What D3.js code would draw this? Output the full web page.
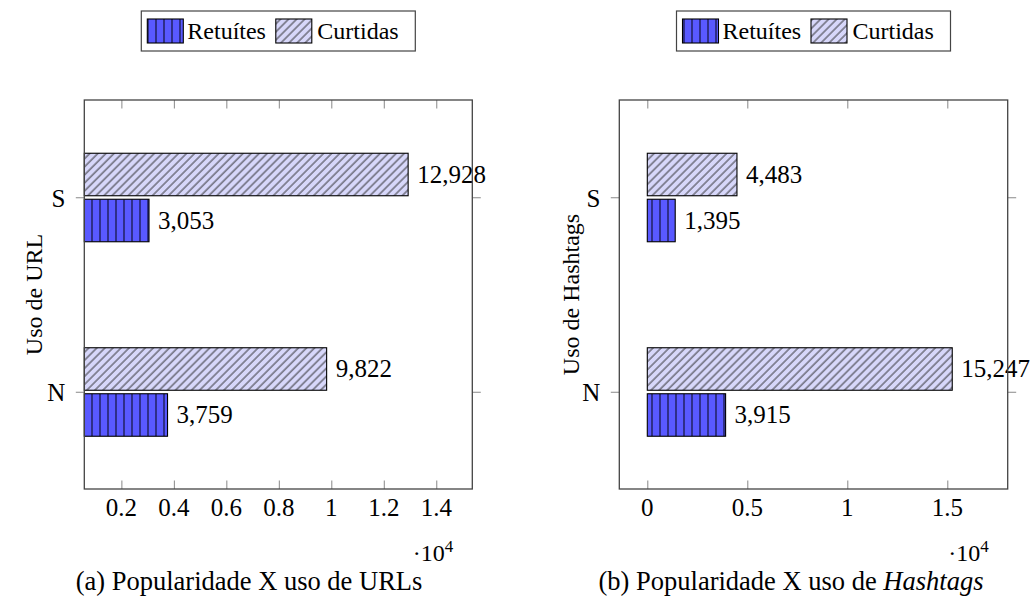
<!doctype html>
<html lang="pt">
<head>
<meta charset="UTF-8">
<title>Popularidade X uso de URLs / Hashtags</title>
<script src="https://d3js.org/d3.v7.min.js"></script>
<style>
    body { margin: 0; background: #fff; }
    text { font-family: "Liberation Serif", "Times New Roman", serif; fill: #000; }
</style>
</head>
<body>
<script>
// categories (y axis) and series values
var categories = ["S", "N"];
var seriesNames = ["Retuítes", "Curtidas"];

var urlRetuites = [3053, 3759];
var urlCurtidas = [12928, 9822];
var hashRetuites = [1395, 3915];
var hashCurtidas = [4483, 15247];

// x axis ticks (values are scaled by 10^4 in the labels)
var urlTicks = [2000, 4000, 6000, 8000, 10000, 12000, 14000];
var urlTickLabels = ["0.2", "0.4", "0.6", "0.8", "1", "1.2", "1.4"];
var hashTicks = [0, 5000, 10000, 15000];
var hashTickLabels = ["0", "0.5", "1", "1.5"];

var width = 1033, height = 601;

var svg = d3.select("body").append("svg")
    .attr("width", width)
    .attr("height", height);

svg.append("rect").attr("width", width).attr("height", height).attr("fill", "#fff");

// patterns
var defs = svg.append("defs");

var vl = defs.append("pattern")
    .attr("id", "vlines")
    .attr("patternUnits", "userSpaceOnUse")
    .attr("width", 8).attr("height", 8);
vl.append("rect").attr("width", 8).attr("height", 8).attr("fill", "#5959ff");
vl.append("line")
    .attr("x1", 4).attr("x2", 4).attr("y1", 0).attr("y2", 8)
    .attr("stroke", "#1c1c55").attr("stroke-width", 1.4);

var ne = defs.append("pattern")
    .attr("id", "nelines")
    .attr("patternUnits", "userSpaceOnUse")
    .attr("width", 5.7).attr("height", 5.7)
    .attr("patternTransform", "rotate(45)");
ne.append("rect").attr("width", 5.7).attr("height", 5.7).attr("fill", "#d7d7fa");
ne.append("line")
    .attr("x1", 1).attr("x2", 1).attr("y1", 0).attr("y2", 5.7)
    .attr("stroke", "#222").attr("stroke-width", 0.9);

var fills = ["url(#vlines)", "url(#nelines)"];

function drawPanel(p) {
    var g = svg.append("g");

    var x = d3.scaleLinear().domain(p.domain).range([p.left, p.right]);
    var y = d3.scalePoint().domain(categories).range([p.top, p.bottom]).padding(0.5);
    var x0 = p.domain[0] < 0 ? 0 : p.domain[0];

    // bars: Curtidas above the category line, Retuítes below
    var rows = categories.map(function(c, i) {
        return { cat: c, values: [p.retuites[i], p.curtidas[i]] };
    });
    var offsets = [[2, 44.5], [-44, -1.5]];

    rows.forEach(function(r) {
        r.values.forEach(function(v, s) {
            var y0 = y(r.cat) + offsets[s][0];
            var y1 = y(r.cat) + offsets[s][1];
            g.append("rect")
                .attr("x", x(x0))
                .attr("y", y0)
                .attr("width", x(v) - x(x0))
                .attr("height", y1 - y0)
                .attr("fill", fills[s])
                .attr("stroke", "#000")
                .attr("stroke-width", 1.1);
            g.append("text")
                .attr("x", x(v) + 9)
                .attr("y", (y0 + y1) / 2 + 8)
                .attr("font-size", 25)
                .text(d3.format(",")(v));
        });
    });

    // x ticks, bottom and top, inside
    var xAxisB = d3.axisBottom(x).tickValues(p.ticks).tickSize(-8.5).tickFormat("");
    var xAxisT = d3.axisTop(x).tickValues(p.ticks).tickSize(-8.5).tickFormat("");
    g.append("g").attr("transform", "translate(0," + p.bottom + ")").call(xAxisB);
    g.append("g").attr("transform", "translate(0," + p.top + ")").call(xAxisT);

    // y ticks, both sides, outside
    g.append("g").attr("transform", "translate(" + p.left + ",0)")
        .call(d3.axisLeft(y).tickSize(8.5).tickFormat(""));
    g.append("g").attr("transform", "translate(" + p.right + ",0)")
        .call(d3.axisRight(y).tickSize(8.5).tickFormat(""));

    g.selectAll(".domain").remove();
    g.selectAll(".tick line").attr("stroke", "#888").attr("stroke-width", 1);

    // frame
    g.append("rect")
        .attr("x", p.left).attr("y", p.top)
        .attr("width", p.right - p.left).attr("height", p.bottom - p.top)
        .attr("fill", "none").attr("stroke", "#444").attr("stroke-width", 1.3);

    // tick labels
    g.selectAll(".xlab").data(p.ticks).enter().append("text")
        .attr("x", function(d) { return x(d); })
        .attr("y", p.bottom + 27)
        .attr("text-anchor", "middle")
        .attr("font-size", 25)
        .text(function(d, i) { return p.tickLabels[i]; });

    g.selectAll(".ylab").data(categories).enter().append("text")
        .attr("x", p.left - 19)
        .attr("y", function(d) { return y(d) + 9.5; })
        .attr("text-anchor", "end")
        .attr("font-size", 25)
        .text(function(d) { return d; });

    // scale note ·10^4
    var sc = g.append("text")
        .attr("x", p.right - 19)
        .attr("y", p.bottom + 72)
        .attr("text-anchor", "end")
        .attr("font-size", 24);
    sc.append("tspan").text("\u00b710");
    sc.append("tspan").attr("font-size", 17).attr("dy", -9).text("4");

    // y axis title
    g.append("text")
        .attr("transform", "translate(" + p.titleX + "," + (p.top + p.bottom) / 2 + ")rotate(-90)")
        .attr("text-anchor", "middle")
        .attr("font-size", 24)
        .text(p.yTitle);

    // legend
    var lg = g.append("g");
    var cx = (p.left + p.right) / 2;
    var lx = cx - 137, ly = 11;
    lg.append("rect")
        .attr("x", lx).attr("y", ly).attr("width", 274).attr("height", 40)
        .attr("fill", "#fff").attr("stroke", "#444").attr("stroke-width", 1.2);
    var items = [{ x: lx + 6, tx: lx + 46 }, { x: lx + 134.5, tx: lx + 176 }];
    seriesNames.forEach(function(name, s) {
        lg.append("rect")
            .attr("x", items[s].x).attr("y", ly + 8)
            .attr("width", 36).attr("height", 24)
            .attr("fill", fills[s]).attr("stroke", "#000").attr("stroke-width", 1.1);
        lg.append("text")
            .attr("x", items[s].tx).attr("y", ly + 27.5)
            .attr("font-size", 24)
            .text(name);
    });

    // caption
    var cap = g.append("text")
        .attr("x", p.capX).attr("y", 590)
        .attr("text-anchor", "middle")
        .attr("font-size", 26.5);
    cap.append("tspan").text(p.caption[0]);
    if (p.caption[1]) cap.append("tspan").attr("font-style", "italic").text(p.caption[1]);
}

drawPanel({
    left: 84.3, right: 472.3, top: 100, bottom: 489,
    domain: [587, 15373],
    retuites: urlRetuites, curtidas: urlCurtidas,
    ticks: urlTicks, tickLabels: urlTickLabels,
    yTitle: "Uso de URL", titleX: 42,
    caption: ["(a) Popularidade X uso de URLs"], capX: 249
});

drawPanel({
    left: 619.3, right: 1007.7, top: 100, bottom: 489,
    domain: [-1400, 18020],
    retuites: hashRetuites, curtidas: hashCurtidas,
    ticks: hashTicks, tickLabels: hashTickLabels,
    yTitle: "Uso de Hashtags", titleX: 579,
    caption: ["(b) Popularidade X uso de ", "Hashtags"], capX: 791
});
</script>
</body>
</html>
